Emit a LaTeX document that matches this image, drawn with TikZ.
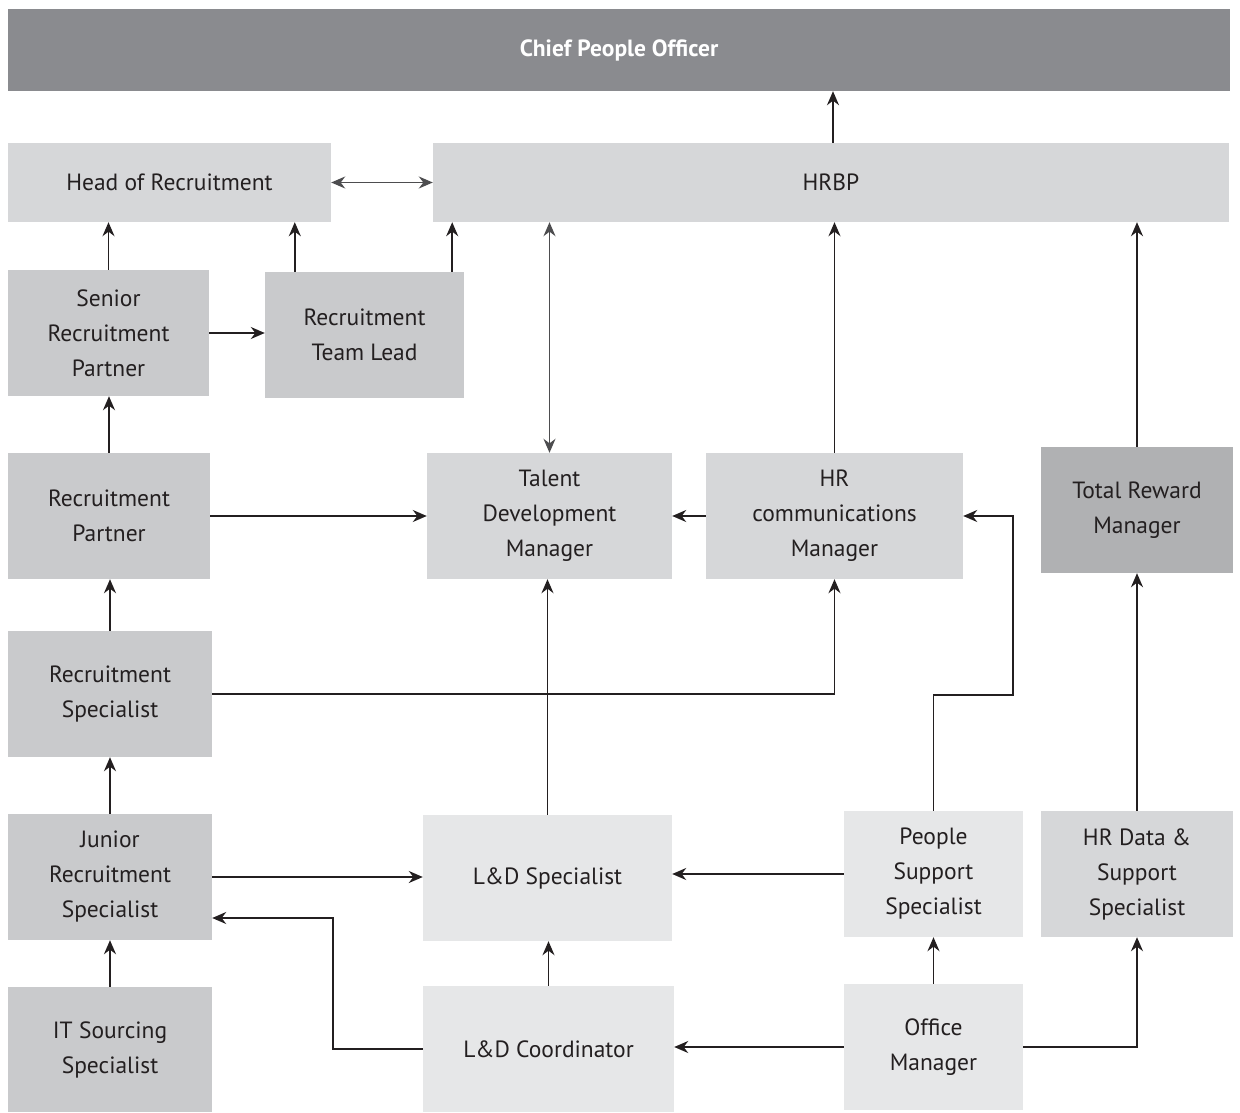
\documentclass[tikz,border=0pt]{standalone}
\usepackage{fontspec}
\setmainfont{PT Sans}
\usetikzlibrary{positioning, arrows.meta}
\definecolor{chiefgrey}{RGB}{138, 139, 143}
\definecolor{rewardgrey}{RGB}{176, 177, 179}
\definecolor{recgrey}{RGB}{201, 202, 204}
\definecolor{hrgrey}{RGB}{214, 215, 217}
\definecolor{palegrey}{RGB}{230, 231, 232}
\definecolor{inkgrey}{RGB}{77, 77, 79}
\definecolor{ink}{RGB}{35, 31, 32}

\begin{document}
\begin{tikzpicture}[
                x=1pt, y=-1pt,
                role/.style={inner sep=0pt, align=center, text=ink,
                             font=\fontsize{23.5}{35}\selectfont},
                link/.style={line width=1.8pt, draw=ink,
                             -{Stealth[length=14pt, width=12pt]}},
                twoway/.style={line width=1.8pt, draw=inkgrey,
                             {Stealth[length=14pt, width=12pt]}-{Stealth[length=14pt, width=12pt]}}
            ]

            \useasboundingbox (0, 0) rectangle (1240, 1113);

            % top rows
            \node[role, fill=chiefgrey, minimum width=1222pt, minimum height=82pt,
                  text=white, font=\fontsize{23.5}{35}\selectfont\bfseries] (cpo) at (619, 50)
                {Chief People Officer};
            \node[role, fill=hrgrey, minimum width=323pt, minimum height=79pt] (hor) at (169.5, 182.5)
                {Head of Recruitment};
            \node[role, fill=hrgrey, minimum width=796pt, minimum height=79pt] (hrbp) at (831, 182.5)
                {HRBP};

            % recruitment column
            \node[role, fill=recgrey, minimum width=201pt, minimum height=126pt] (srp) at (108.5, 333)
                {Senior\\Recruitment\\Partner};
            \node[role, fill=recgrey, minimum width=199pt, minimum height=126pt] (rtl) at (364.5, 335)
                {Recruitment\\Team Lead};
            \node[role, fill=recgrey, minimum width=202pt, minimum height=126pt] (rp) at (109, 516)
                {Recruitment\\Partner};
            \node[role, fill=recgrey, minimum width=204pt, minimum height=126pt] (rs) at (110, 694)
                {Recruitment\\Specialist};
            \node[role, fill=recgrey, minimum width=204pt, minimum height=126pt] (jrs) at (110, 877)
                {Junior\\Recruitment\\Specialist};
            \node[role, fill=recgrey, minimum width=204pt, minimum height=125pt] (its) at (110, 1049.5)
                {IT Sourcing\\Specialist};

            % middle rows
            \node[role, fill=hrgrey, minimum width=245pt, minimum height=126pt] (tdm) at (549.5, 516)
                {Talent\\Development\\Manager};
            \node[role, fill=hrgrey, minimum width=257pt, minimum height=126pt] (hrcm) at (834.5, 516)
                {HR\\communications\\Manager};
            \node[role, fill=rewardgrey, minimum width=192pt, minimum height=126pt] (trm) at (1137, 510)
                {Total Reward\\Manager};

            % bottom rows
            \node[role, fill=palegrey, minimum width=249pt, minimum height=126pt] (lds) at (547.5, 878)
                {L\&D Specialist};
            \node[role, fill=palegrey, minimum width=179pt, minimum height=126pt] (pss) at (933.5, 874)
                {People\\Support\\Specialist};
            \node[role, fill=hrgrey, minimum width=192pt, minimum height=126pt] (hrdss) at (1137, 874)
                {HR Data \&\\Support\\Specialist};
            \node[role, fill=palegrey, minimum width=251pt, minimum height=126pt] (ldc) at (548.5, 1049)
                {L\&D Coordinator};
            \node[role, fill=palegrey, minimum width=179pt, minimum height=126pt] (om) at (933.5, 1047)
                {Office\\Manager};

            \coordinate (pssbend) at (1013, 695);
            \coordinate (ldcbend) at (333, 918);

            % connectors
            \draw[link] ([xshift=2pt]hrbp.north) -- ([xshift=2pt]hrbp.north |- cpo.south);
            \draw[twoway] (hor.east) -- (hrbp.west);
            \draw[link] (srp.north) -- (srp.north |- hor.south);
            \draw[link] ([xshift=30pt]rtl.north west) -- ([xshift=30pt]rtl.north west |- hor.south);
            \draw[link] ([xshift=-12pt]rtl.north east) -- ([xshift=-12pt]rtl.north east |- hrbp.south);
            \draw[twoway] (tdm.north) -- (tdm.north |- hrbp.south);
            \draw[link] (hrcm.north) -- (hrcm.north |- hrbp.south);
            \draw[link] (trm.north) -- (trm.north |- hrbp.south);
            \draw[link] (srp.east) -- (srp.east -| rtl.west);
            \draw[link] (rp.north) -- (rp.north |- srp.south);
            \draw[link] (rp.east) -- (rp.east -| tdm.west);
            \draw[link] (hrcm.west) -- (hrcm.west -| tdm.east);
            \draw[link] (rs.north) -- (rs.north |- rp.south);
            \draw[link] (rs.east) -| (hrcm.south);
            \draw[link] (lds.north) -- (lds.north |- tdm.south);
            \draw[link] (pss.north) |- (pssbend) |- (hrcm.east);
            \draw[link] (hrdss.north) -- (hrdss.north |- trm.south);
            \draw[link] (jrs.north) -- (jrs.north |- rs.south);
            \draw[link] (jrs.east) -- (jrs.east -| lds.west);
            \draw[link] (ldc.west) -| (ldcbend) -- (ldcbend -| jrs.east);
            \draw[link] (ldc.north) -- (ldc.north |- lds.south);
            \draw[link] (pss.west) -- (pss.west -| lds.east);
            \draw[link] (its.north) -- (its.north |- jrs.south);
            \draw[link] (om.west) -- (om.west -| ldc.east);
            \draw[link] (om.north) -- (om.north |- pss.south);
            \draw[link] (om.east) -| (hrdss.south);

            \end{tikzpicture}
\end{document}
